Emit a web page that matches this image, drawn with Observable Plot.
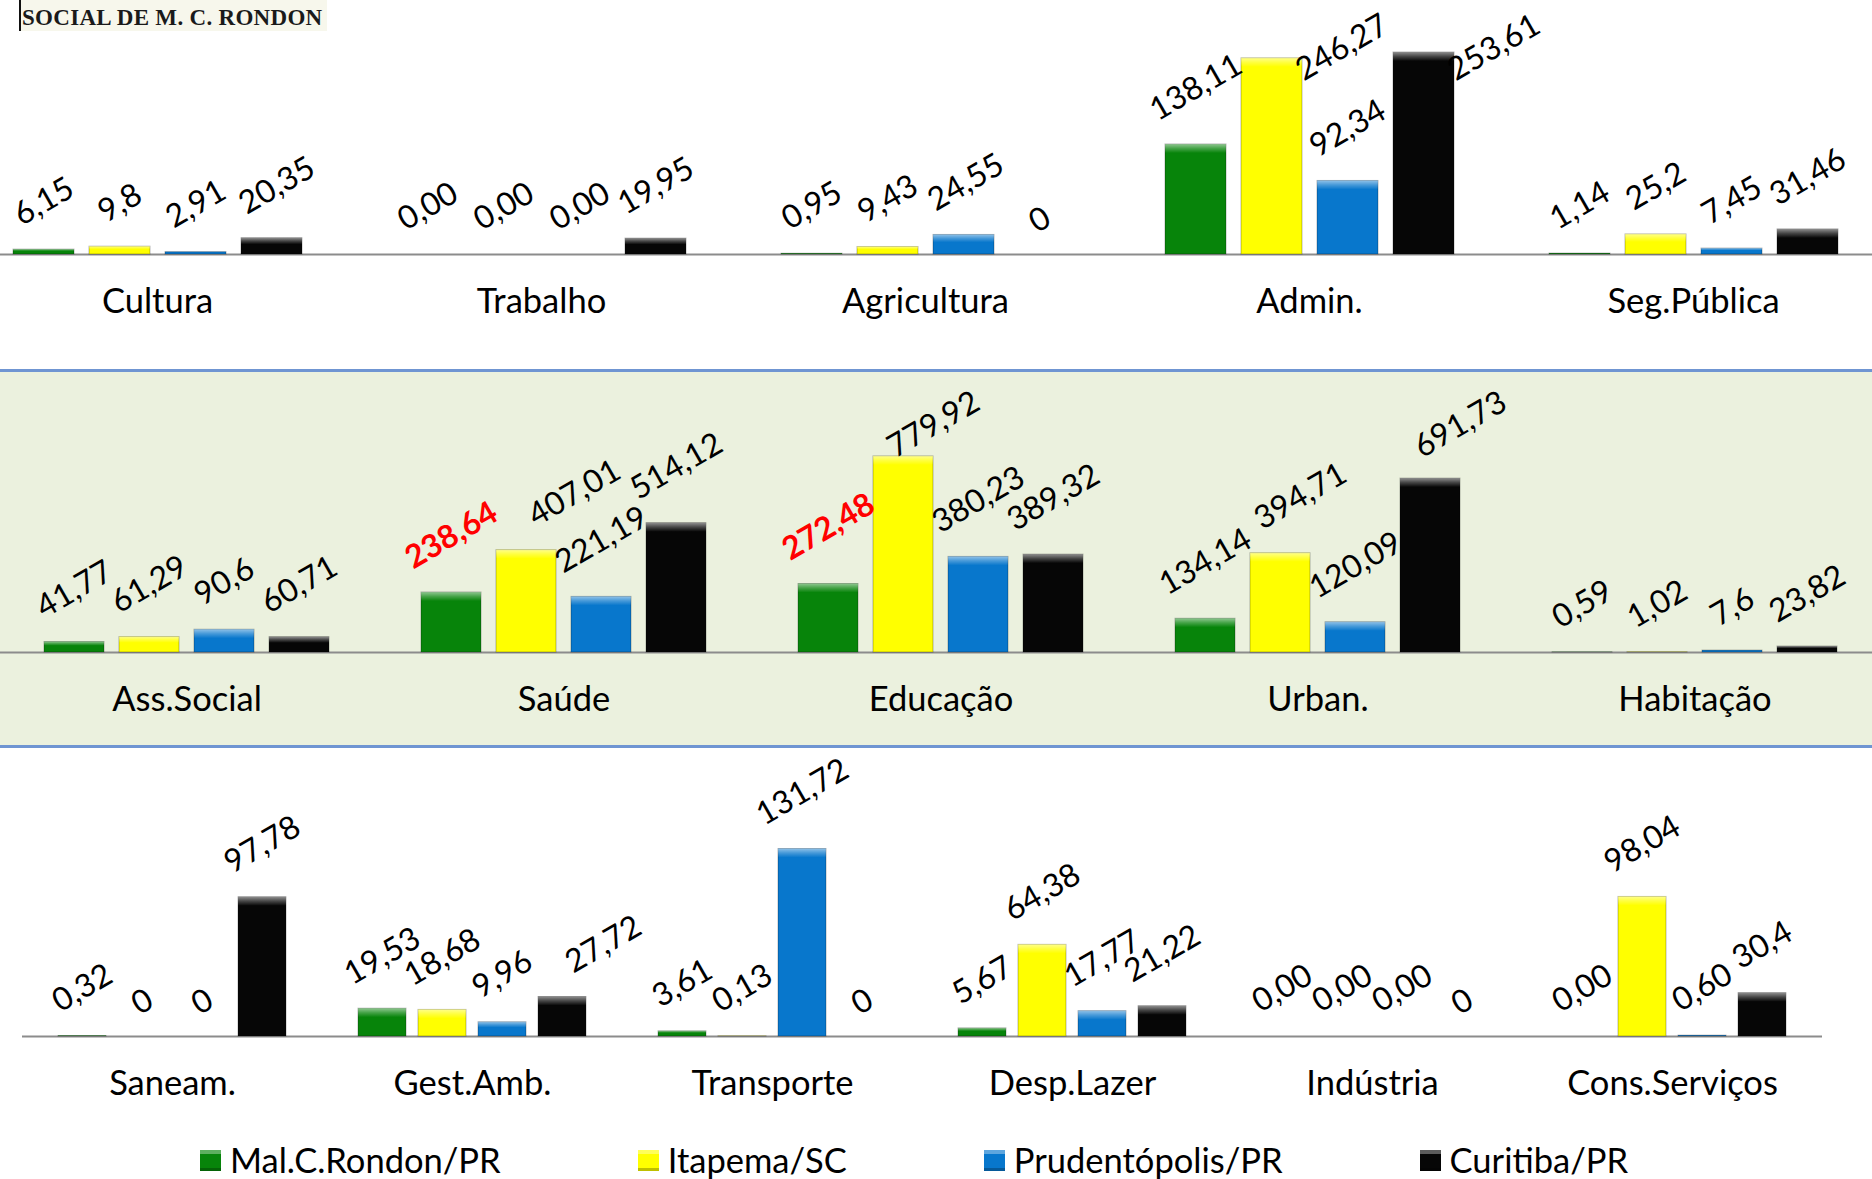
<!DOCTYPE html>
<html>
<head>
<meta charset="utf-8">
<script src="https://cdn.jsdelivr.net/npm/d3@7"></script>
<script src="https://cdn.jsdelivr.net/npm/@observablehq/plot@0.6"></script>
<style>
  html, body { margin: 0; padding: 0; overflow: hidden; background: #ffffff; width: 1872px; height: 1179px; }
  body { position: relative; font-family: Lato, "Open Sans", sans-serif; }
  #top, #bot { background: #ffffff; }
  #mid { background: #EBF1DE; border-top: 3px solid #6F95D2; border-bottom: 3px solid #6F95D2; }
  #top svg, #mid svg, #bot svg { display: block; }
  #legend { height: 54px; box-sizing: border-box; padding-top: 16px; padding-left: 200px; display: flex; align-items: center; gap: 137px; }
  .item { display: flex; align-items: center; gap: 9px; font-size: 34.5px; line-height: 1; color: #000; }
  .sw { width: 21px; height: 21px; display: inline-block; box-shadow: inset 0 4px 0 rgba(255,255,255,0.35), inset 0 -3px 0 rgba(0,0,0,0.25); }
  #logo { position: absolute; left: 19px; top: 0; height: 31px; width: 306px; border-left: 2px solid #111;
          background: #f7f7ec; font: bold 23px "Liberation Serif", "DejaVu Serif", serif; color: #1a1a1a; white-space: nowrap; }
  #logo span { position: absolute; left: 1px; bottom: 0; line-height: 1.15; letter-spacing: 0.3px; }
</style>
</head>
<body>
<svg width="0" height="0" style="position:absolute">
  <defs>
    <linearGradient id="bevelTop" x1="0" y1="0" x2="0" y2="1">
      <stop offset="0" stop-color="#ffffff" stop-opacity="0.55"/>
      <stop offset="0.5" stop-color="#ffffff" stop-opacity="0.25"/>
      <stop offset="1" stop-color="#ffffff" stop-opacity="0"/>
    </linearGradient>
  </defs>
</svg>
<div id="top"></div>
<div id="mid"></div>
<div id="bot"></div>
<div id="legend"></div>
<div id="logo"><span>SOCIAL DE M. C. RONDON</span></div>
<script>
// ---------- data ----------
const series = ["Mal.C.Rondon/PR", "Itapema/SC", "Prudentópolis/PR", "Curitiba/PR"];
const seriesColors = ["#07840a", "#ffff00", "#0877cc", "#060606"];

const topCategories = ["Cultura", "Trabalho", "Agricultura", "Admin.", "Seg.Pública"];
const topValues = [
  ["6,15", "9,8", "2,91", "20,35"],
  ["0,00", "0,00", "0,00", "19,95"],
  ["0,95", "9,43", "24,55", "0"],
  ["138,11", "246,27", "92,34", "253,61"],
  ["1,14", "25,2", "7,45", "31,46"]
];

const midCategories = ["Ass.Social", "Saúde", "Educação", "Urban.", "Habitação"];
const midValues = [
  ["41,77", "61,29", "90,6", "60,71"],
  ["238,64", "407,01", "221,19", "514,12"],
  ["272,48", "779,92", "380,23", "389,32"],
  ["134,14", "394,71", "120,09", "691,73"],
  ["0,59", "1,02", "7,6", "23,82"]
];

const botCategories = ["Saneam.", "Gest.Amb.", "Transporte", "Desp.Lazer", "Indústria", "Cons.Serviços"];
const botValues = [
  ["0,32", "0", "0", "97,78"],
  ["19,53", "18,68", "9,96", "27,72"],
  ["3,61", "0,13", "131,72", "0"],
  ["5,67", "64,38", "17,77", "21,22"],
  ["0,00", "0,00", "0,00", "0"],
  ["0,00", "98,04", "0,60", "30,4"]
];

const highlighted = [["Saúde", "Mal.C.Rondon/PR"], ["Educação", "Mal.C.Rondon/PR"]];

// ---------- helpers ----------
const LABEL_FS = 32;
const measureCtx = document.createElement("canvas").getContext("2d");
function textLen(s, bold) {
  measureCtx.font = `${bold ? "bold " : ""}${LABEL_FS}px Lato`;
  return measureCtx.measureText(s).width;
}

// ---------- panel builder ----------
function panel({categories, values, height, baseline, ppu, fxRange, background, clampTop, clampDx}) {
  const ymax = baseline / ppu;
  const capY = (baseline - clampTop) / ppu;
  const bw = (fxRange[1] - fxRange[0]) / categories.length;
  const xb = d3.scaleBand().domain(series).range([0, bw]).paddingInner(0.2).paddingOuter(0.6);
  const COS = Math.cos(Math.PI / 6), SIN = 0.5, H = LABEL_FS * 0.78;

  const rows = [];
  categories.forEach((c, i) => {
    const placed = [];
    series.forEach((s, j) => {
      const label = values[i][j];
      const value = +label.replace(",", ".");
      const want = value + (30 + 4.5 * label.length) / ppu;
      const hi = highlighted.some(([hc, hs]) => hc === c && hs === s);
      const r = {
        category: c, series: s, label, value, hi,
        ly: Math.min(want, capY),
        clamped: want > capY,
        bev: Math.min(9, value * ppu * 0.4) / ppu
      };
      // label placement (pixel space, within the facet) with overlap avoidance
      const base = xb(s) + xb.bandwidth() / 2;
      r.px = base + (r.clamped ? clampDx : 0);
      r.py = baseline - r.ly * ppu;
      r.L = textLen(label, hi);
      for (const p of placed) {
        const ddx = r.px - p.px, ddy = r.py - p.py;
        const du = ddx * COS - ddy * SIN;
        const dv = ddx * SIN + ddy * COS;
        if (Math.abs(du) < (r.L + p.L) / 2 + 4 && Math.abs(dv) < H) {
          r.px += dv >= 0 ? (H - dv) / SIN : (du > 0 ? 20 : -(H + dv) / SIN);
        }
      }
      placed.push(r);
      r.dx = Math.round(r.px - base);
      rows.push(r);
    });
  });

  const common = {fx: "category", x: "series"};
  const textBase = {...common, y: "ly", text: "label", rotate: -30, fontSize: LABEL_FS, textAnchor: "middle", lineAnchor: "middle"};
  const labelGroups = d3.groups(rows, d => d.dx, d => d.hi);
  const labelMarks = labelGroups.flatMap(([dx, byHi]) => byHi.map(([hi, grp]) =>
    Plot.text(grp, {...textBase, dx, fill: hi ? "#ff0000" : "#000000", fontWeight: hi ? "bold" : "normal"})));

  return Plot.plot({
    width: 1872, height,
    marginTop: 0, marginBottom: height - baseline, marginLeft: 0, marginRight: 0,
    style: {fontFamily: "Lato, 'Open Sans', sans-serif", background, overflow: "visible", color: "#000"},
    fx: {domain: categories, range: fxRange, padding: 0, axis: null},
    x: {domain: series, paddingInner: 0.2, paddingOuter: 0.6, axis: null},
    y: {domain: [0, ymax], axis: null},
    color: {domain: series, range: seriesColors},
    marks: [
      Plot.ruleY([0], {stroke: "#8c8c8c", strokeWidth: 2}),
      Plot.barY(rows, {...common, y: "value", fill: "series", stroke: "rgba(0,0,0,0.28)", strokeWidth: 1}),
      Plot.barY(rows.filter(d => d.value * ppu >= 4), {...common, y1: d => d.value, y2: d => d.value - d.bev, fill: "url(#bevelTop)"}),
      ...labelMarks,
      Plot.text(categories, {fx: d => d, text: d => d, frameAnchor: "bottom", dy: 58, fontSize: 34.5, fill: "#000"})
    ]
  });
}

document.getElementById("top").append(panel({
  categories: topCategories, values: topValues, height: 369, baseline: 254, ppu: 0.7965,
  fxRange: [-35.7, 1885.1], background: "#ffffff", clampTop: 47, clampDx: 70
}));
document.getElementById("mid").append(panel({
  categories: midCategories, values: midValues, height: 373, baseline: 280, ppu: 0.2514,
  fxRange: [-4, 1885.6], background: "#EBF1DE", clampTop: 52, clampDx: 30
}));
document.getElementById("bot").append(panel({
  categories: botCategories, values: botValues, height: 377, baseline: 288, ppu: 1.4235,
  fxRange: [20.8, 1823], background: "#ffffff", clampTop: 20, clampDx: 0
}));

// ---------- legend ----------
const legend = document.getElementById("legend");
series.forEach((s, i) => {
  const item = document.createElement("div");
  item.className = "item";
  const sw = document.createElement("span");
  sw.className = "sw";
  sw.style.background = seriesColors[i];
  const t = document.createElement("span");
  t.textContent = s;
  item.append(sw, t);
  legend.append(item);
});
</script>
</body>
</html>
